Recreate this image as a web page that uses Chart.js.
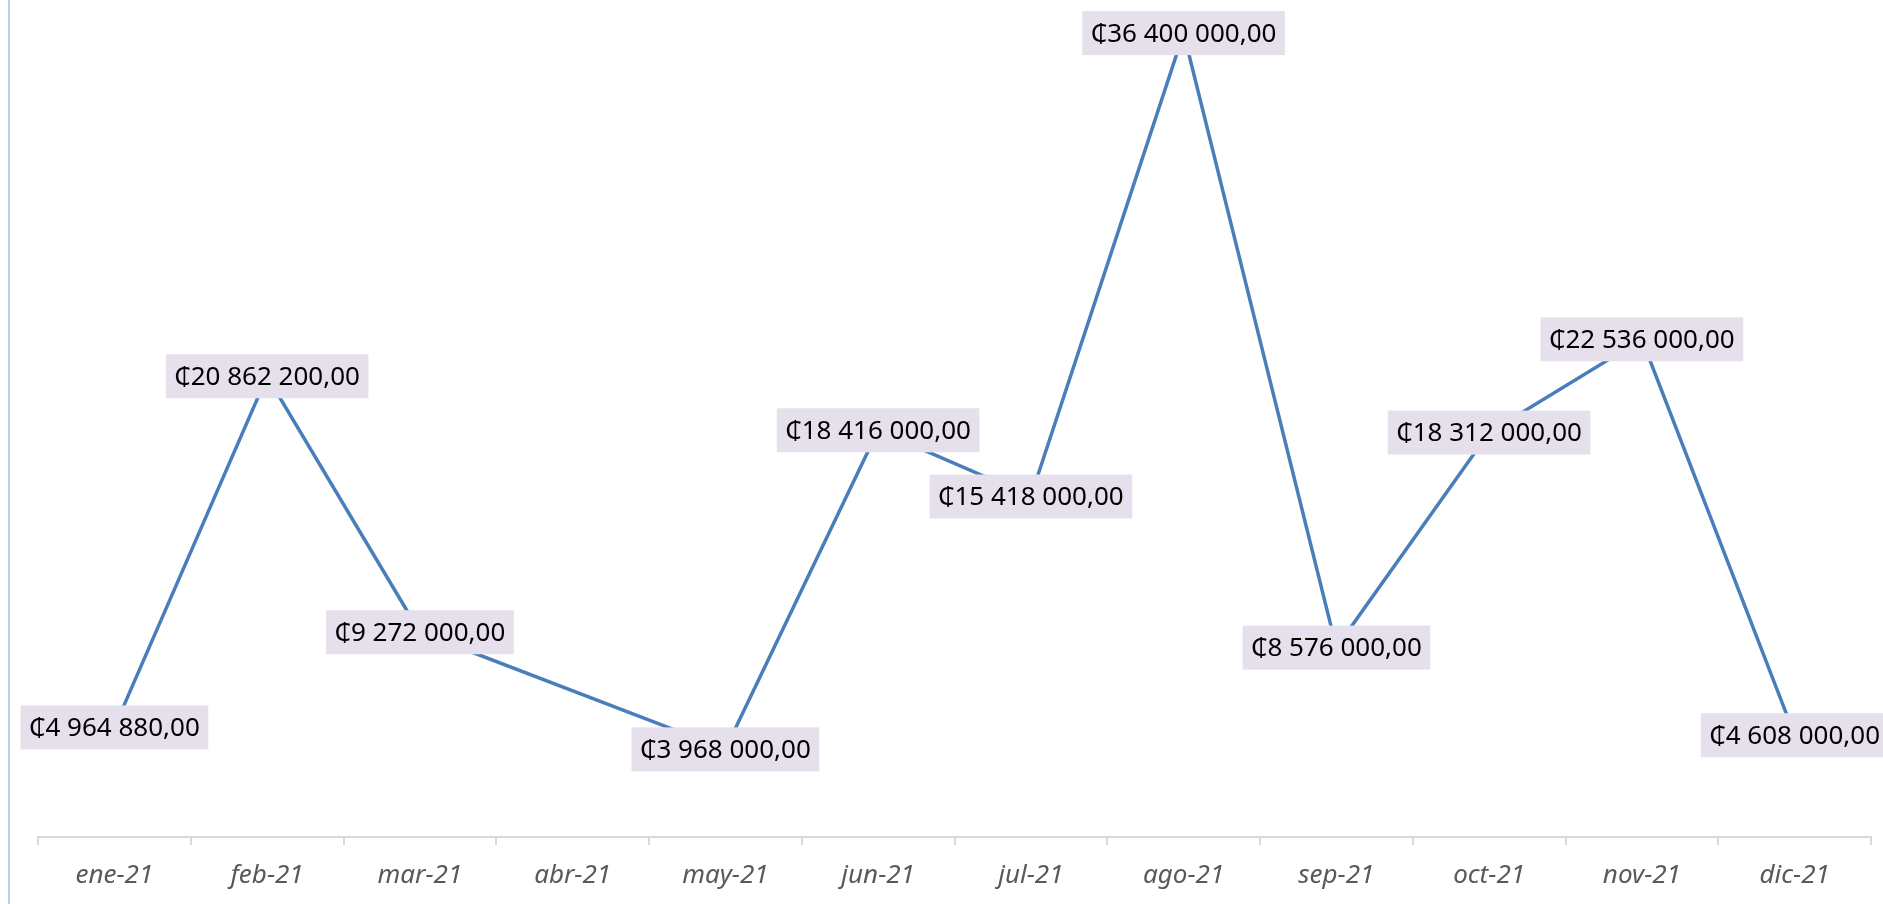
<!DOCTYPE html>
<html>
<head>
<meta charset="utf-8">
<script src="https://cdn.jsdelivr.net/npm/chart.js@4"></script>
<style>
  html, body { margin: 0; padding: 0; background: #fff; }
  #wrap { position: relative; width: 1883px; height: 904px; }
</style>
</head>
<body>
<div id="wrap"><canvas id="chart" width="1883" height="904"></canvas></div>
<script>
// Meses del eje X
const months = ["ene-21", "feb-21", "mar-21", "abr-21", "may-21", "jun-21",
  "jul-21", "ago-21", "sep-21", "oct-21", "nov-21", "dic-21"];

// Montos por mes (abr-21 sin dato)
const amounts = [4964880, 20862200, 9272000, null, 3968000, 18416000,
  15418000, 36400000, 8576000, 18312000, 22536000, 4608000];

/**
 * Formato de colones: ₵36 400 000,00
 */
function colones(v) {
  const [ent, dec] = v.toFixed(2).split(".");
  return "\u20B5" + ent.replace(/\B(?=(\d{3})+(?!\d))/g, " ") + "," + dec;
}

// Etiquetas de datos con fondo lila, centradas sobre cada punto
const dataLabels = {
  id: "dataLabels",
  afterDatasetsDraw(chart) {
    const ctx = chart.ctx;
    const meta = chart.getDatasetMeta(0);
    ctx.save();
    ctx.font = "26px 'Noto Sans', 'DejaVu Sans', sans-serif";
    ctx.textAlign = "center";
    ctx.textBaseline = "middle";
    meta.data.forEach((pt, i) => {
      const v = amounts[i];
      if (v === null) return;
      const txt = colones(v);
      const w = ctx.measureText(txt).width + 17;
      const h = 44;
      ctx.fillStyle = "#e6e0ec";
      ctx.fillRect(pt.x - w / 2, pt.y - h / 2, w, h);
      ctx.fillStyle = "#000";
      ctx.fillText(txt, pt.x, pt.y + 1);
    });
    ctx.restore();
  },
};

// Borde izquierdo del marco del gráfico
const frameLine = {
  id: "frameLine",
  beforeDraw(chart) {
    const ctx = chart.ctx;
    ctx.save();
    ctx.fillStyle = "#bccde6";
    ctx.fillRect(8, 0, 2, chart.height);
    ctx.restore();
  },
};

new Chart(document.getElementById("chart"), {
  type: "line",
  data: {
    labels: months,
    datasets: [{
      data: amounts,
      borderColor: "#4a7ebb",
      borderWidth: 3.5,
      pointRadius: 0,
      tension: 0,
      spanGaps: true,
    }],
  },
  options: {
    responsive: false,
    animation: false,
    layout: { padding: { left: 38, right: 12, top: 0, bottom: 0 } },
    plugins: { legend: { display: false }, tooltip: { enabled: false } },
    scales: {
      x: {
        offset: true,
        grid: { offset: true, drawOnChartArea: false, tickLength: 8, color: "#d9d9d9", lineWidth: 2 },
        border: { color: "#d9d9d9", width: 2 },
        ticks: {
          color: "#595959",
          padding: 15,
          maxRotation: 0,
          font: { family: "'Noto Sans', 'DejaVu Sans', sans-serif", size: 26, style: "italic" },
        },
        afterFit: (scale) => { scale.height = 67; },
      },
      y: { display: false, min: 0, max: 37900000 },
    },
  },
  plugins: [frameLine, dataLabels],
});
</script>
</body>
</html>
